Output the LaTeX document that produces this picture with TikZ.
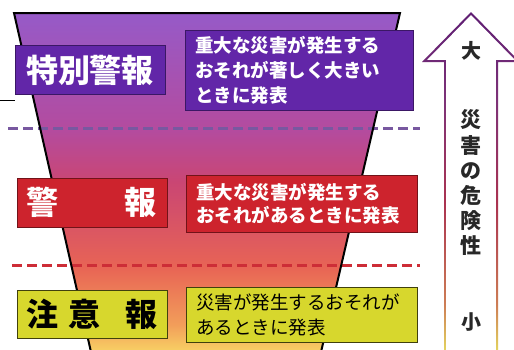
\documentclass[tikz,border=0pt]{standalone}
\usepackage{fontspec}
\setmainfont{Noto Sans CJK JP}
\usepackage{xcolor}
\usepackage{tikz}
\usetikzlibrary{positioning}
\definecolor{fpurple}{RGB}{150,90,200}
\definecolor{fmauve}{RGB}{180,75,158}
\definecolor{fmagenta}{RGB}{202,70,115}
\definecolor{fred}{RGB}{232,100,85}
\definecolor{forange}{RGB}{242,158,90}
\definecolor{fyellow}{RGB}{248,210,100}
\definecolor{apurple}{RGB}{95,30,115}
\definecolor{amauve}{RGB}{125,50,120}
\definecolor{ared}{RGB}{170,50,80}
\definecolor{aorange}{RGB}{205,125,85}
\definecolor{ayellow}{RGB}{228,215,95}
\definecolor{boxpurple}{RGB}{98,38,168}
\definecolor{boxred}{RGB}{205,35,45}
\definecolor{boxyellow}{RGB}{215,215,45}
\definecolor{dashpurple}{RGB}{120,88,160}
\definecolor{dashred}{RGB}{205,45,55}
\definecolor{arrowtext}{RGB}{40,40,40}
\pgfdeclareverticalshading{funnelshade}{100bp}{color(0bp)=(fyellow); color(25bp)=(fyellow); color(29bp)=(forange); color(37.5bp)=(fred); color(50bp)=(fmagenta); color(57.6bp)=(fmauve); color(75bp)=(fpurple); color(100bp)=(fpurple)}
\pgfdeclareverticalshading{arrowshade}{100bp}{color(0bp)=(ayellow); color(25bp)=(ayellow); color(32bp)=(aorange); color(47bp)=(ared); color(62bp)=(amauve); color(75bp)=(apurple); color(100bp)=(apurple)}
\tikzstyle{labelbox}=[draw, line width=1pt, minimum width=150pt, minimum height=49pt, inner sep=0pt, font=\fontsize{32}{32}\selectfont\bfseries]
\tikzstyle{descbox}=[draw, line width=1pt, align=left, inner xsep=10pt, inner ysep=0pt]
\tikzstyle{dashline}=[line width=3pt, dash pattern=on 10pt off 5pt]

\begin{document}
\begin{tikzpicture}[x=1pt,y=-1pt]
\useasboundingbox (0,0) rectangle (514,349);
\fill[white] (0,0) rectangle (514,349);
% funnel
\shade[shading=funnelshade] (14,13)--(400,13)--(321,352)--(91,352)--cycle;
\draw[dashline,dashpurple] (8,128)--(420,128);
\draw[dashline,dashred] (12,265)--(420,265);
\draw[line width=2pt,line join=miter] (91,352)--(14,13)--(400,13)--(321,352);
\draw[line width=1pt] (0,100)--(15,100);
% arrow
\shade[shading=arrowshade] (471,12)--(422,62)--(444,62)--(444,352)--(498,352)--(498,62)--(520,62)--cycle;
\fill[white] (471,15.1)--(427.2,59.8)--(446.2,59.8)--(446.2,352)--(495.8,352)--(495.8,59.8)--(514.8,59.8)--cycle;
\node[](big) at (471,51) {\fontsize{20}{20}\selectfont\bfseries\color{arrowtext}大};
\node[align=center,font=\fontsize{21}{25.2}\selectfont\bfseries,text=arrowtext](risk) at (471,183) {災\\害\\の\\危\\険\\性};
\node[](small) at (471,322) {\fontsize{20}{20}\selectfont\bfseries\color{arrowtext}小};
% levels
\node[labelbox,fill=boxpurple,draw=boxpurple!60!black,text=white](special) at (90,70) {特別警報};
\node[descbox,fill=boxpurple,draw=boxpurple!60!black,text=white,text width=208pt,minimum height=80pt,font=\fontsize{18.5}{25}\selectfont\bfseries](specialtext) at (299,70) {重大な災害が発生する\\おそれが著しく大きい\\ときに発表};
\node[labelbox,fill=boxred,draw=boxred!55!black,text=white](warning) at (92,202.5) {警\hspace{66pt}報};
\node[descbox,fill=boxred,draw=boxred!55!black,text=white,text width=211pt,minimum height=57pt,font=\fontsize{18.5}{23}\selectfont\bfseries](warningtext) at (301.5,203.5) {重大な災害が発生する\\おそれがあるときに発表};
\node[labelbox,fill=boxyellow,draw=boxyellow!30!black,text=black,minimum height=48pt](advisory) at (92.5,314) {注\hspace{10pt}意\hspace{25pt}報};
\node[descbox,fill=boxyellow,draw=boxyellow!30!black,text=black,text width=211pt,minimum height=55pt,font=\fontsize{18.5}{25}\selectfont](advisorytext) at (301.5,314.5) {災害が発生するおそれが\\あるときに発表};
\end{tikzpicture}
\end{document}
